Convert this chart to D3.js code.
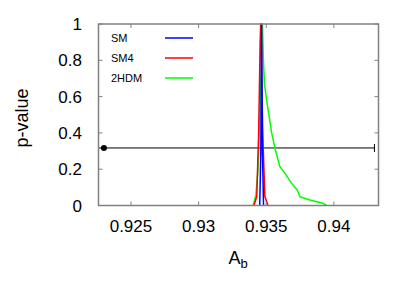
<!DOCTYPE html>
<html><head><meta charset="utf-8">
<script src="https://cdn.jsdelivr.net/npm/d3@7"></script>
<style>body{margin:0;background:#fff}svg{display:block}text{font-family:"Liberation Sans",Arial,sans-serif}</style>
</head><body><svg id="c" width="415" height="291"></svg>
<script>
const xTicks = [0.925, 0.93, 0.935, 0.94];
const xTickLabels = ["0.925", "0.93", "0.935", "0.94"];
const yTicks = [0, 0.2, 0.4, 0.6, 0.8, 1];
const yTickLabels = ["0", "0.2", "0.4", "0.6", "0.8", "1"];
const seriesNames = ["SM", "SM4", "2HDM"];
const seriesColors = ["#0000ff", "#ff0000", "#00ff00"];
const smA = [0.93452, 0.93460, 0.93466, 0.93472, 0.93480];
const smP = [0, 0.3, 1, 0.3, 0];
const sm4A = [0.93409, 0.93430, 0.93444, 0.93455, 0.93459, 0.93463, 0.93474, 0.93490, 0.93513];
const sm4P = [0, 0.05, 0.4, 0.9, 1, 0.9, 0.4, 0.05, 0];
const hdmA = [0.93404, 0.93424, 0.93439, 0.93453, 0.93472, 0.93479, 0.93487, 0.93503, 0.93522, 0.93540, 0.93564, 0.93601, 0.93638, 0.93688, 0.93729, 0.93749, 0.93823, 0.93921, 0.93946];
const hdmP = [0, 0.06, 0.2, 0.5, 1.0, 0.8, 0.67, 0.58, 0.49, 0.40, 0.317, 0.214, 0.177, 0.122, 0.085, 0.048, 0.03, 0.012, 0];
const expA = [0.923];
const expErr = [0.020];
const expP = [0.317];

const svg = d3.select("#c");
const L = 98.5, R = 378.5, T = 24, B = 205.5;
const x = d3.scaleLinear().domain([0.9226, 0.9433]).range([L, R]);
const y = d3.scaleLinear().domain([0, 1]).range([B, T]);

svg.append("defs").append("clipPath").attr("id", "pc")
  .append("rect").attr("x", L).attr("y", T - 2).attr("width", R - L).attr("height", B - T + 2);

const g = svg.append("g").attr("clip-path", "url(#pc)");
expA.forEach((a, i) => {
  const yy = y(expP[i]);
  g.append("line").attr("x1", x(a - expErr[i])).attr("x2", x(a + expErr[i]))
    .attr("y1", yy).attr("y2", yy).attr("stroke", "#000").attr("stroke-width", 1);
  g.append("line").attr("x1", x(a + expErr[i])).attr("x2", x(a + expErr[i]))
    .attr("y1", yy - 4).attr("y2", yy + 4).attr("stroke", "#000").attr("stroke-width", 1);
  g.append("circle").attr("cx", x(a)).attr("cy", yy).attr("r", 3).attr("fill", "#000");
});

const line = d3.line().x(d => x(d[0])).y(d => y(d[1]));
const data = [d3.zip(hdmA, hdmP), d3.zip(sm4A, sm4P), d3.zip(smA, smP)];
const cols = [seriesColors[2], seriesColors[1], seriesColors[0]];
data.forEach((d, i) => {
  g.append("path").attr("d", line(d)).attr("fill", "none")
    .attr("stroke", cols[i]).attr("stroke-width", 1.5).attr("stroke-linejoin", "round");
});

const frameC = "#808080";
svg.append("rect").attr("x", L).attr("y", T).attr("width", R - L).attr("height", B - T)
  .attr("fill", "none").attr("stroke", frameC).attr("stroke-width", 1.5);

const tk = 4;
xTicks.forEach((t, i) => {
  const xx = x(t);
  svg.append("line").attr("x1", xx).attr("x2", xx).attr("y1", B).attr("y2", B - tk).attr("stroke", frameC);
  svg.append("line").attr("x1", xx).attr("x2", xx).attr("y1", T).attr("y2", T + tk).attr("stroke", frameC);
  svg.append("text").attr("x", xx).attr("y", 232).attr("text-anchor", "middle")
    .attr("font-size", 17).text(xTickLabels[i]);
});
yTicks.forEach((t, i) => {
  const yy = y(t);
  svg.append("line").attr("x1", L).attr("x2", L + tk).attr("y1", yy).attr("y2", yy).attr("stroke", frameC);
  svg.append("line").attr("x1", R).attr("x2", R - tk).attr("y1", yy).attr("y2", yy).attr("stroke", frameC);
  svg.append("text").attr("x", 82).attr("y", yy + 6).attr("text-anchor", "end")
    .attr("font-size", 17).text(yTickLabels[i]);
});

svg.append("text").attr("transform", "translate(28,118) rotate(-90)").attr("text-anchor", "middle")
  .attr("font-size", 18).text("p-value");
const xl = svg.append("text").attr("x", 238).attr("y", 264).attr("text-anchor", "middle").attr("font-size", 18);
xl.append("tspan").text("A");
xl.append("tspan").attr("font-size", 13).attr("dy", 4).text("b");

seriesNames.forEach((n, i) => {
  const yy = 38 + i * 20;
  svg.append("text").attr("x", 111).attr("y", yy + 4).attr("font-size", 11).text(n);
  svg.append("line").attr("x1", 165).attr("x2", 193).attr("y1", yy).attr("y2", yy)
    .attr("stroke", seriesColors[i]).attr("stroke-width", 1.5);
});
</script></body></html>
